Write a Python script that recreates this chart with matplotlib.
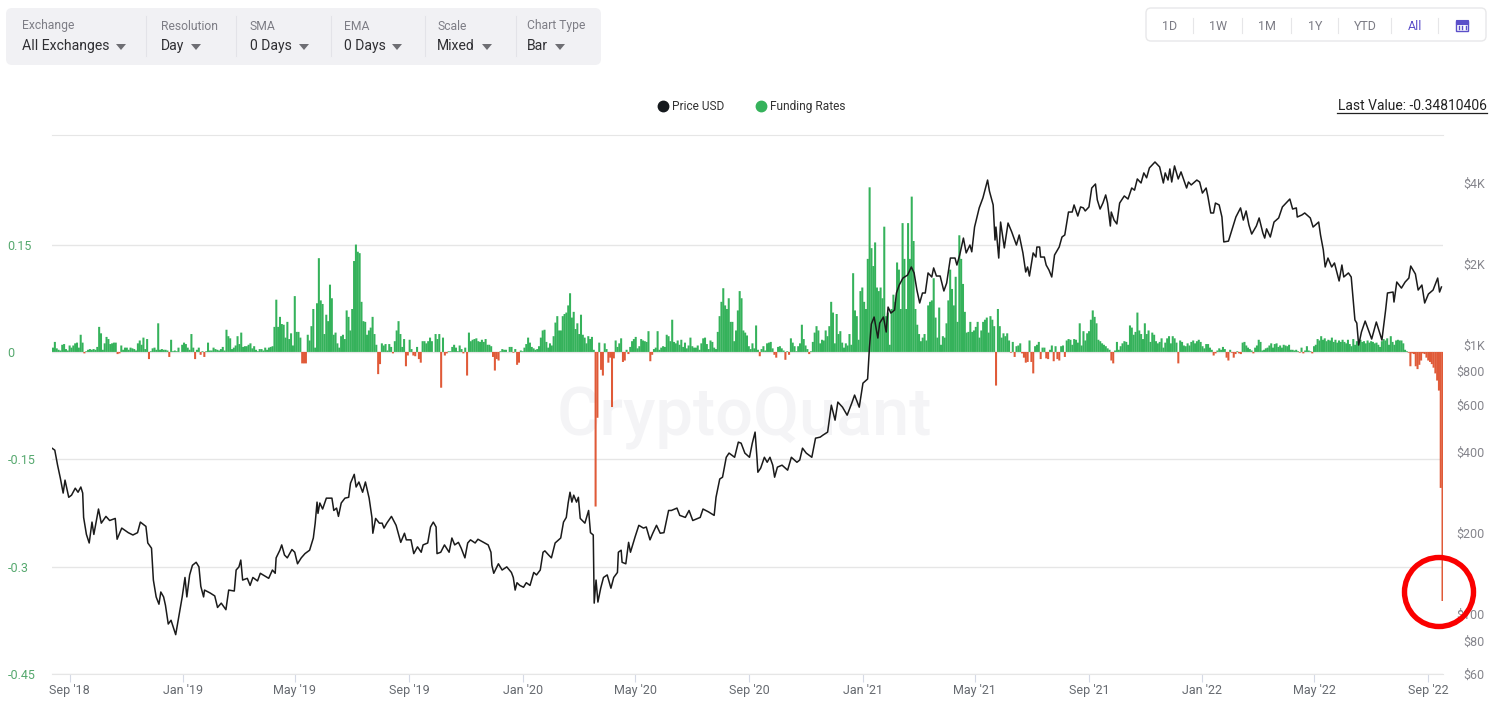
#!/usr/bin/env python3
import datetime as dt
import numpy as np
import matplotlib
matplotlib.use('Agg')
import matplotlib.pyplot as plt
import matplotlib.dates as mdates
from matplotlib.lines import Line2D
from matplotlib.patches import Circle, FancyBboxPatch, Polygon, Rectangle
from matplotlib.transforms import Affine2D

plt.rcParams['font.family'] = ['Roboto', 'DejaVu Sans']

START = dt.date(2018, 8, 13)
LAST_DAY = 1495.7

# ETH price, days since START and USD
price_days_1 = [0,3,6,9,12,14,18,21,25,28,31,33,34,37,40,43,45,50,53,58,62,68,70,75,82,87,92,95,101,103,107,109,112,115,117,120,122,125,128,133,137,140,143,145,148,151,155,158,160,163,164,170,175,178,182,187,190,196,198,201,203,205,210,213,216,221,224,233,237,240,241,245,247,250]
price_usd_1 = [414,407,358,320,282,315,272,277,294,284,297,282,229,198,184,220,198,246,218,231,223,227,190,209,201,197,201,220,212,184,176,134,116,109,121,116,108,92,95,84,101,116,137,116,140,152,156,150,127,116,123,120,117,106,110,104,123,122,146,150,159,134,136,128,137,133,142,136,146,142,162,173,181,166]
price_days_2 = [253,258,261,264,268,272,277,281,283,285,286,288,291,295,301,303,306,308,311,315,319,321,325,327,330,334,337,341,344,345,348,352,355,357,360,365,370,375,379,381,386,389,393,397,399,404,407,410,413,414,418,422,427,430,433,437,440,444,447,450,455,458,464,469,472,473,475,480,484,489,494,496,498,500,503]
price_usd_2 = [162,174,170,154,162,168,173,192,218,261,237,259,246,270,270,243,248,231,259,270,272,307,331,297,310,284,310,270,229,200,227,218,218,209,218,231,214,185,200,189,189,168,178,170,181,184,211,220,211,168,170,181,170,192,181,185,176,162,184,189,184,190,185,181,170,152,142,154,146,150,143,137,123,131,128]
price_days_3 = [507,510,514,518,521,525,528,530,534,537,541,547,550,553,555,557,559,561,564,566,568,573,577,579,582,583,585,587,590,593,597,601,604,608,609,612,613,617,620,622,627,631,636,639,643,646,650,654,658,663,666,672,675,681,685,689,697,700,706,712,714,718,721,725,728,734,738,741,745,750,753,756]
price_usd_3 = [126,131,128,143,140,146,170,172,166,162,184,192,220,229,259,284,261,277,261,272,227,218,243,201,197,110,134,111,125,137,140,125,137,143,170,173,156,154,185,170,194,214,209,211,189,200,214,200,201,243,243,248,233,229,243,223,229,246,240,233,272,318,323,383,397,383,436,432,397,383,432,475]
price_days_4 = [758,759,762,766,769,772,775,777,780,785,791,795,801,804,807,811,817,821,826,829,834,838,842,845,850,855,860,863,868,872,877,879,881,884,888,890,894,897,899,902,906,908,911,915,920,924,927,930,933,936,939,942,946,948,951,955,959,962,966,971,973,976,980,983,987,989,992,997,1001,1006,1008]
price_usd_4 = [383,337,349,383,367,383,358,323,352,358,343,383,367,374,414,397,383,451,455,463,475,598,526,614,588,549,609,652,588,722,748,983,1197,1271,1062,1207,1271,1118,1384,1315,1349,1561,1671,1774,1820,1950,1853,1601,1433,1561,1561,1853,1790,1934,1805,1805,1588,1699,2105,2105,1983,2160,2497,2199,2353,2220,2744,3232,3522,4102,3730]
price_days_5 = [1012,1014,1015,1018,1020,1024,1028,1032,1037,1040,1044,1047,1049,1051,1055,1058,1059,1062,1063,1067,1069,1072,1075,1078,1083,1086,1089,1093,1097,1099,1103,1106,1109,1111,1115,1118,1122,1124,1127,1130,1133,1135,1138,1139,1142,1145,1148,1153,1157,1161,1164,1167,1171,1174,1177,1180,1186,1191,1195,1197,1200,1202,1204,1207,1211,1214,1220,1222,1225,1231,1234,1237,1241,1243,1246,1249,1251,1255,1258,1260]
price_usd_5 = [3315,2456,2744,2105,2864,2295,2840,2630,2353,2564,2199,1868,1950,1805,2199,2123,2313,2313,2123,2123,1983,1900,1790,2160,2313,2520,2564,3120,3120,3315,3015,3259,3232,3149,3259,3832,3965,3460,3201,3369,3611,3369,2768,3120,2913,2818,3369,3580,3487,3832,3762,4140,4000,4360,4181,4550,4787,4589,4000,4360,4102,4510,4034,4628,4140,4398,3832,4034,3934,4102,4034,3670,3832,3550,3095,3095,3369,3315,2990,2416]
price_days_6 = [1265,1270,1273,1278,1281,1284,1287,1290,1295,1298,1302,1304,1306,1310,1314,1319,1323,1328,1331,1334,1338,1339,1344,1347,1353,1356,1362,1364,1367,1369,1372,1376,1379,1384,1387,1389,1394,1397,1401,1403,1405,1408,1412,1419,1424,1430,1434,1436,1442,1443,1446,1451,1455,1459,1461,1466,1469,1473,1476,1480,1485,1490,1492,1494]
price_usd_6 = [2433,2768,2990,3232,2913,3149,2793,2585,2768,2966,2608,2497,2702,2520,2864,2966,3259,3400,3487,3201,3232,2990,3043,3095,2966,2744,2864,2564,2256,1950,2105,1950,2018,1730,1983,1790,1853,1790,1239,1207,1000,1118,1228,1053,1218,1044,1349,1561,1574,1445,1715,1628,1715,1774,1966,1837,1601,1671,1433,1547,1601,1774,1574,1643]

# funding rate in thousandths, two day buckets, one list per stretch of the chart
funding_spans = [(0, 250), (250, 503), (503, 756), (756, 1008), (1008, 1260), (1260, 1496)]
funding_1 = [6,14,5,3,2,10,11,4,2,9,6,9,12,13,6,24,13,-2,1,3,4,3,4,3,7,35,26,3,12,21,18,11,12,13,13,-3,-2,9,3,6,6,3,6,5,4,2,12,16,10,20,4,18,-10,1,5,6,3,40,3,4,3,3,2,-7,17,1,2,1,6,0,10,13,11,6,3,25,6,-10,3,6,-4,1,-7,1,13,2,2,6,4,3,2,4,7,2,31,22,19,4,6,9,22,11,27,7,8,8,10,12,5,8,3,1,4,4,2,6,3,6,7,8,35,73,35,49,39,38]
funding_2 = [20,42,18,26,9,78,28,28,20,-16,-16,-16,24,16,36,60,6,68,131,72,67,25,52,43,94,75,24,27,12,6,22,24,18,58,49,30,60,127,150,140,138,70,43,42,24,30,34,49,25,10,-31,-17,12,9,11,2,11,7,-2,15,30,43,25,7,18,-20,-5,17,4,-5,-6,7,-10,-15,15,15,12,15,20,15,0,25,18,25,-50,20,-5,-2,1,1,7,10,6,1,9,4,-2,6,-33,27,15,17,18,19,15,14,17,14,18,10,10,8,-7,-26,-10,-12,1,4,3,3,0,7,7,-1,4,-18,-15]
funding_3 = [2,1,6,11,20,13,7,5,3,4,8,20,30,31,14,6,12,9,22,41,50,30,30,50,53,55,65,82,48,56,32,40,25,52,24,20,12,22,18,21,3,-216,-92,13,-25,-33,12,4,-15,-8,-77,-9,16,7,12,19,-14,-12,3,-3,7,15,18,21,5,8,18,16,15,14,29,-13,-4,4,6,29,3,6,8,7,24,22,15,45,14,12,16,10,17,7,13,5,9,20,8,6,6,9,3,12,19,20,11,4,16,14,6,4,28,50,70,89,65,60,75,42,42,15,30,58,85,75,30,27,23,8,4,12,5]
funding_4 = [37,3,-6,4,8,2,12,13,14,5,-4,-8,7,8,5,2,-11,1,-4,19,13,8,1,8,12,38,18,9,4,-3,1,14,27,36,30,12,17,16,30,22,36,70,55,12,53,25,29,13,6,12,9,25,10,110,58,50,17,85,90,70,60,130,230,145,120,153,90,85,90,75,175,50,55,10,60,80,70,125,115,60,180,130,60,180,130,217,155,60,38,25,15,20,25,16,65,70,72,103,48,20,62,10,22,20,40,72,115,88,65,105,42,163,130,95,56,27,28,42,28,30,35,42,20,30,42,45,48,27]
funding_5 = [50,45,36,-47,60,36,20,26,22,26,16,-1,14,-7,8,9,12,-2,-8,-15,-14,16,-14,-30,8,10,14,-10,6,6,-9,-10,3,9,-13,8,-10,-12,8,9,-7,16,18,17,10,18,17,13,40,9,29,16,26,29,45,58,49,40,17,15,12,10,8,5,3,-12,-16,2,14,3,8,12,15,14,10,37,34,24,28,55,30,25,18,40,25,30,14,27,24,15,12,14,19,6,13,19,22,12,22,19,13,-16,16,14,9,8,12,9,14,16,12,15,17,14,8,5,11,11,6,3,-5,-2,2,5,3,7]
funding_6 = [4,-8,-12,3,-1,-8,-3,1,-2,-3,13,14,9,6,4,2,-2,6,9,17,14,2,3,5,6,9,12,6,11,12,7,9,6,10,9,8,10,3,3,2,3,1,-1,6,-2,2,8,2,1,-2,8,10,18,16,22,17,19,15,17,16,20,14,17,13,16,14,17,14,12,17,11,8,18,10,15,14,17,14,15,12,16,13,15,14,12,13,10,7,15,18,16,19,10,22,14,10,16,17,16,16,12,3,1,-1,-20,-2,-3,-20,-24,-18,-12,-2,-3,-8,-12,-14,-17,-22,-30,-40,-54,-190,-348]

y_ticks = [-0.45, -0.3, -0.15, 0, 0.15]
y_labels = ['-0.45', '-0.3', '-0.15', '0', '0.15']
price_ticks = [60, 80, 100, 200, 400, 600, 800, 1000, 2000, 4000]
price_labels = ['$60', '$80', '$100', '$200', '$400', '$600', '$800', '$1K', '$2K', '$4K']

W, H = 1502, 707
GREEN = '#35b25b'
RED = '#e05a38'
GRID = '#e6e6e6'

fig = plt.figure(figsize=(W / 100, H / 100), dpi=100)
ax = fig.add_axes([52 / W, 1 - 674 / H, (1443 - 52) / W, (674 - 135) / H])
ax.patch.set_visible(False)
x0 = mdates.date2num(START)

days = []
rates = []
for span, vals in zip(funding_spans, [funding_1, funding_2, funding_3, funding_4, funding_5, funding_6]):
    days.append(np.linspace(span[0], span[1], len(vals), endpoint=False))
    rates.append(np.array(vals) / 1000)
days = np.concatenate(days) + x0
rates = np.concatenate(rates)

ax.bar(days[rates >= 0], rates[rates >= 0], width=2.2, color=GREEN, linewidth=0, align='edge', zorder=2, snap=False)
ax.bar(days[rates < 0], rates[rates < 0], width=2.2, color=RED, linewidth=0, align='edge', zorder=2, snap=False)

ax.set_xlim(x0, x0 + LAST_DAY)
ax.set_ylim(-0.45, 0.3031)
ax.set_yticks(y_ticks)
ax.set_yticklabels(y_labels)
ax.grid(axis='y', color=GRID, linewidth=1, zorder=0)
ax.set_axisbelow(True)
for s in ['left', 'right']:
    ax.spines[s].set_visible(False)
ax.spines['bottom'].set_color(GRID)
ax.spines['top'].set_color(GRID)
ax.tick_params(axis='y', length=0, pad=32.2, labelcolor='#55a86e', labelsize=9)
for t in ax.get_yticklabels():
    t.set_horizontalalignment('left')
ax.xaxis.set_major_locator(mdates.MonthLocator(bymonth=[1, 5, 9]))
ax.xaxis.set_major_formatter(mdates.DateFormatter("%b '%y"))
ax.tick_params(axis='x', length=6, color='#d5dae6', labelcolor='#666a70', labelsize=9, pad=1)

ax2 = ax.twinx()
ax2.patch.set_visible(False)
price_x = np.concatenate([price_days_1, price_days_2, price_days_3, price_days_4, price_days_5, price_days_6]) + x0
price_y = np.concatenate([price_usd_1, price_usd_2, price_usd_3, price_usd_4, price_usd_5, price_usd_6])
ax2.plot(price_x, price_y, color='#1b1b1b', linewidth=1.1, zorder=3)
ax2.set_yscale('log')
ax2.set_ylim(60, 6030)
ax2.set_yticks(price_ticks)
ax2.set_yticklabels(price_labels)
ax2.minorticks_off()
ax2.tick_params(axis='y', length=0, pad=30, labelcolor='#85858c', labelsize=9)
for t in ax2.get_yticklabels():
    t.set_horizontalalignment('right')
for s in ax2.spines.values():
    s.set_visible(False)

# everything outside the plot is laid out in image pixels
ui = Affine2D().scale(1, -1).translate(0, H)

def label(x, y, s, **kw):
    kw.setdefault('va', 'center')
    fig.text(x, y + 1, s, transform=ui, **kw)

fig.text(744, 418, 'CryptoQuant', transform=ui, ha='center', va='center', fontsize=48,
         fontweight='medium', color='#f4f4f6', zorder=-1)

fig.add_artist(FancyBboxPatch((10, 12), 587, 49, boxstyle='round,pad=4,rounding_size=6', transform=ui,
                              facecolor='#f1f1f4', edgecolor='none', mutation_aspect=1))
menu_heads = ['Exchange', 'Resolution', 'SMA', 'EMA', 'Scale', 'Chart Type']
menu_values = ['All Exchanges', 'Day', '0 Days', '0 Days', 'Mixed', 'Bar']
menu_x = [22, 161, 250, 344, 437, 527]
menu_arrow_x = [121, 196, 304, 397, 487, 560]
menu_div_x = [146, 236, 331, 425, 516]
for x, a, head, val in zip(menu_x, menu_arrow_x, menu_heads, menu_values):
    label(x, 25, head, fontsize=8.7, color='#7d7d85')
    label(x, 45, val, fontsize=10.1, color='#2f2f33')
    fig.add_artist(Polygon([(a - 5, 44), (a + 5, 44), (a, 50)], closed=True, transform=ui,
                           facecolor='#6e6e73', edgecolor='none'))
for x in menu_div_x:
    fig.add_artist(Line2D([x, x], [16, 56], transform=ui, color='#e3e3e8', linewidth=0.8))

fig.add_artist(FancyBboxPatch((1150, 12), 332, 25, boxstyle='round,pad=4,rounding_size=5', transform=ui,
                              facecolor='white', edgecolor='#e8e8ea', linewidth=1))
range_names = ['1D', '1W', '1M', '1Y', 'YTD', 'All']
range_x = [1170, 1218, 1267, 1315, 1365, 1415]
range_div_x = [1193, 1242, 1291, 1338, 1391, 1438]
for x, s in zip(range_x, range_names):
    label(x, 25, s, ha='center', fontsize=9, color='#5b4fc9' if s == 'All' else '#7c7c85')
for x in range_div_x:
    fig.add_artist(Line2D([x, x], [18, 33], transform=ui, color='#e6e6e8', linewidth=0.8))
fig.add_artist(Rectangle((1456, 21), 12, 10, transform=ui, facecolor='white', edgecolor='#5b4fc9', linewidth=1))
fig.add_artist(Rectangle((1456, 20), 12, 3.5, transform=ui, facecolor='#5b4fc9', edgecolor='#5b4fc9', linewidth=0.8))
for x in [1458.5, 1462, 1465.5]:
    fig.add_artist(Line2D([x, x], [26, 29], transform=ui, color='#5b4fc9', linewidth=1))

fig.add_artist(Line2D([663], [106], transform=ui, marker='o', markersize=7.5, color='#15191d', linestyle='none'))
label(672, 105.5, 'Price USD', fontsize=8.6, color='#333333')
fig.add_artist(Line2D([761], [106], transform=ui, marker='o', markersize=7.5, color=GREEN, linestyle='none'))
label(770, 105.5, 'Funding Rates', fontsize=8.6, color='#333333')

label(1487, 105.5, 'Last Value: -0.34810406', ha='right', fontsize=10, color='#222222')
fig.add_artist(Line2D([1337, 1487], [113, 113], transform=ui, color='#222222', linewidth=0.9))

fig.add_artist(Circle((1439, 592), 34.5, transform=ui, facecolor='none', edgecolor='#fa0000', linewidth=3.9, zorder=10))

fig.savefig('out.png', dpi=100)
